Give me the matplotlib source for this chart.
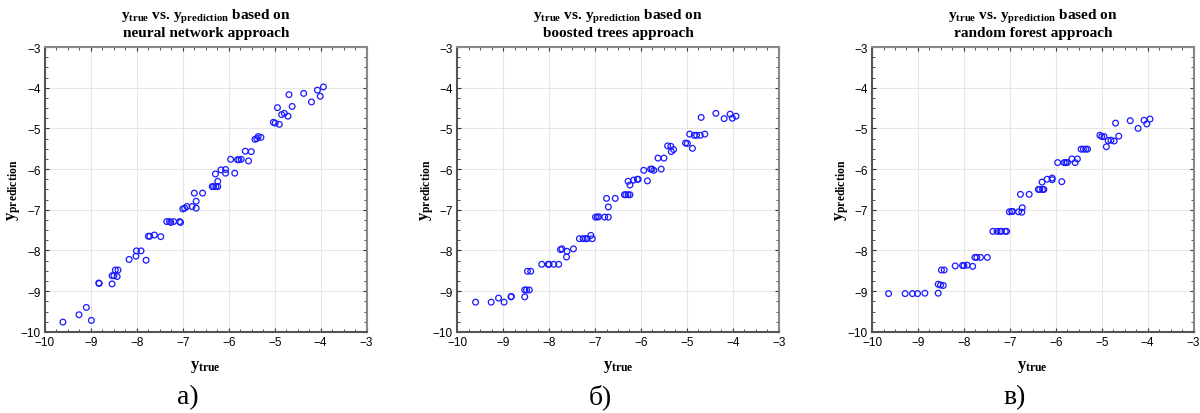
import numpy as np
import matplotlib
matplotlib.use("Agg")
from matplotlib import pyplot as plt
from matplotlib.ticker import MultipleLocator

plt.rcParams['mathtext.fontset'] = 'custom'
plt.rcParams['mathtext.rm'] = 'Liberation Serif:bold'
plt.rcParams['mathtext.it'] = 'Liberation Serif:bold'
plt.rcParams['mathtext.bf'] = 'Liberation Serif:bold'

# neural network
true_a = [-9.61, -9.26, -9.10, -8.99, -8.83, -8.82, -8.54, -8.54, -8.50, -8.43,
          -8.47, -8.41, -8.17, -8.02, -8.01, -7.91, -7.80, -7.75, -7.72, -7.62,
          -7.48, -7.35, -7.29, -7.26, -7.20, -7.07, -7.05, -7.00, -6.96, -6.91,
          -6.80, -6.71, -6.71, -6.75, -6.57, -6.36, -6.33, -6.28, -6.24, -6.24,
          -6.29, -6.17, -6.07, -6.07, -5.96, -5.87, -5.81, -5.78, -5.73, -5.64,
          -5.57, -5.51, -5.43, -5.39, -5.36, -5.30, -5.03, -4.99, -4.90, -4.94,
          -4.85, -4.79, -4.71, -4.69, -4.62, -4.37, -4.20, -4.07, -4.01, -3.94]
pred_a = [-9.76, -9.58, -9.40, -9.72, -8.80, -8.81, -8.82, -8.62, -8.62, -8.64,
          -8.48, -8.48, -8.22, -8.14, -8.01, -8.01, -8.24, -7.65, -7.65, -7.62,
          -7.66, -7.29, -7.29, -7.31, -7.29, -7.29, -7.31, -6.98, -6.96, -6.92,
          -6.92, -6.96, -6.79, -6.59, -6.59, -6.43, -6.43, -6.43, -6.43, -6.30,
          -6.12, -6.02, -6.01, -6.10, -5.76, -6.10, -5.77, -5.77, -5.76, -5.56,
          -5.80, -5.57, -5.27, -5.25, -5.20, -5.22, -4.85, -4.87, -4.90, -4.49,
          -4.66, -4.63, -4.70, -4.17, -4.46, -4.14, -4.35, -4.06, -4.21, -3.98]

# boosted trees
true_b = [-9.60, -9.26, -9.10, -8.98, -8.83, -8.82, -8.53, -8.53, -8.49, -8.43,
          -8.47, -8.40, -8.16, -8.02, -8.00, -7.90, -7.79, -7.75, -7.72, -7.61,
          -7.62, -7.47, -7.34, -7.26, -7.21, -7.17, -7.09, -7.06, -6.99, -6.95,
          -6.92, -6.79, -6.71, -6.75, -6.71, -6.56, -6.36, -6.33, -6.28, -6.24,
          -6.28, -6.24, -6.16, -6.08, -6.06, -5.94, -5.86, -5.79, -5.76, -5.72,
          -5.63, -5.56, -5.50, -5.42, -5.35, -5.34, -5.29, -5.03, -4.99, -4.88,
          -4.94, -4.84, -4.79, -4.71, -4.69, -4.61, -4.37, -4.19, -4.06, -4.01,
          -3.93]
pred_b = [-9.27, -9.27, -9.17, -9.27, -9.14, -9.13, -9.14, -8.97, -8.97, -8.97,
          -8.51, -8.51, -8.34, -8.34, -8.34, -8.34, -8.34, -7.98, -7.96, -8.02,
          -8.16, -7.96, -7.71, -7.71, -7.71, -7.71, -7.63, -7.71, -7.18, -7.18,
          -7.17, -7.18, -7.18, -6.72, -6.93, -6.72, -6.63, -6.63, -6.63, -6.63,
          -6.30, -6.39, -6.27, -6.25, -6.25, -6.03, -6.29, -6.00, -6.00, -6.03,
          -5.73, -6.00, -5.73, -5.43, -5.44, -5.57, -5.52, -5.36, -5.37, -5.49,
          -5.14, -5.17, -5.17, -5.17, -4.73, -5.14, -4.63, -4.76, -4.65, -4.75,
          -4.70]

# random forest
true_c = [-9.64, -9.28, -9.12, -9.01, -8.85, -8.56, -8.56, -8.51, -8.45, -8.49,
          -8.43, -8.19, -8.03, -8.00, -7.93, -7.81, -7.76, -7.72, -7.64, -7.49,
          -7.37, -7.28, -7.22, -7.19, -7.10, -7.07, -7.01, -6.96, -6.94, -6.81,
          -6.74, -6.77, -6.73, -6.58, -6.38, -6.35, -6.29, -6.26, -6.30, -6.19,
          -6.08, -6.08, -5.96, -5.87, -5.82, -5.78, -5.75, -5.65, -5.58, -5.53,
          -5.45, -5.40, -5.35, -5.31, -5.04, -5.00, -4.95, -4.90, -4.86, -4.80,
          -4.73, -4.70, -4.63, -4.38, -4.21, -4.08, -4.02, -3.95]
pred_c = [-9.06, -9.06, -9.06, -9.06, -9.05, -9.05, -8.83, -8.85, -8.86, -8.48,
          -8.48, -8.38, -8.37, -8.37, -8.36, -8.39, -8.17, -8.17, -8.17, -8.17,
          -7.53, -7.53, -7.53, -7.53, -7.53, -7.53, -7.05, -7.04, -7.04, -7.05,
          -7.06, -6.62, -6.95, -6.62, -6.50, -6.50, -6.50, -6.50, -6.32, -6.25,
          -6.26, -6.22, -5.84, -6.31, -5.84, -5.84, -5.84, -5.75, -5.84, -5.75,
          -5.51, -5.51, -5.51, -5.51, -5.17, -5.20, -5.20, -5.45, -5.30, -5.29,
          -5.31, -4.87, -5.19, -4.81, -5.00, -4.80, -4.89, -4.77]

methods = ['neural network', 'boosted trees', 'random forest']
letters = ['а)', 'б)', 'в)']
lefts = [0.0375, 0.381, 0.7267]

fig = plt.figure(figsize=(12, 4.14), dpi=100)

for i, (xs, ys) in enumerate([(true_a, pred_a), (true_b, pred_b), (true_c, pred_c)]):
    ax = fig.add_axes([lefts[i], 0.196, 0.268, 0.688])
    ax.scatter(xs, ys, s=17, facecolors='none', edgecolors='#1a1aff', linewidths=0.9, zorder=3)
    ax.set_xlim(-10, -3)
    ax.set_ylim(-10, -3)
    ax.xaxis.set_major_locator(MultipleLocator(1))
    ax.yaxis.set_major_locator(MultipleLocator(1))
    ax.xaxis.set_minor_locator(MultipleLocator(0.25))
    ax.yaxis.set_minor_locator(MultipleLocator(0.25))
    ax.tick_params(which='both', direction='in', top=True, right=True,
                   color='#333333', labelsize=8.5, pad=3)
    ax.tick_params(which='major', length=3, width=0.8)
    ax.tick_params(which='minor', length=2, width=0.6)
    for lab in ax.get_xticklabels() + ax.get_yticklabels():
        lab.set_fontfamily('Liberation Sans')
    ax.grid(True, color='#e6e6e6', linewidth=0.8, zorder=0)
    for side in ['left', 'bottom']:
        ax.spines[side].set_color('#555555')
        ax.spines[side].set_linewidth(1.5)
    for side in ['top', 'right']:
        ax.spines[side].set_color('#888888')
        ax.spines[side].set_linewidth(1.5)
    ax.set_xlabel(r'$\mathrm{y_{true}}$', fontsize=12, labelpad=6)
    ax.set_ylabel(r'$\mathrm{y_{prediction}}$', fontsize=12, labelpad=-2)
    ax.set_title(r'$\mathrm{y_{true}}$ vs. $\mathrm{y_{prediction}}$ based on' + '\n' + methods[i] + ' approach',
                 fontsize=11, fontweight='bold', family='Liberation Serif', pad=8, linespacing=1.1)
    fig.text(lefts[i] + 0.268 / 2 - 0.015, 0.04, letters[i], fontsize=20,
             family='Liberation Serif', ha='center', va='center')

fig.savefig('out.png', dpi=100)
